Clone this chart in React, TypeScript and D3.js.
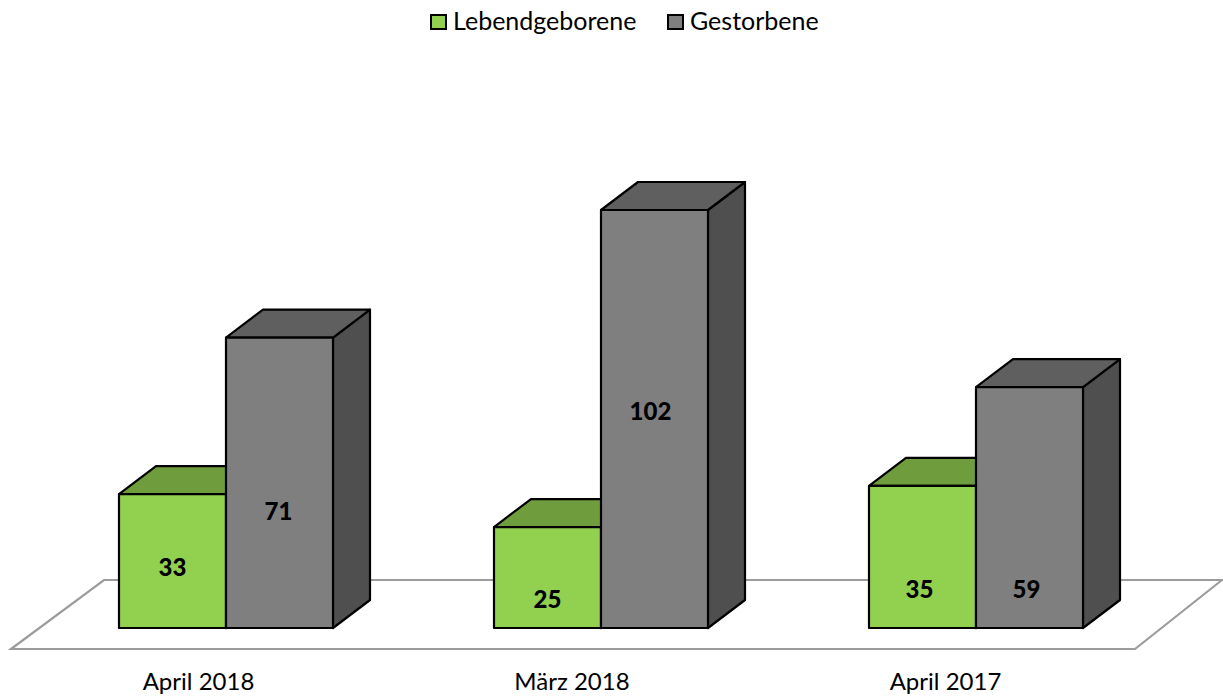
import React, { useEffect, useRef } from 'react'
import * as d3 from 'd3'

const categories = ['April 2018', 'März 2018', 'April 2017']
const seriesNames = ['Lebendgeborene', 'Gestorbene']
const lebendgeborene = [33, 25, 35]
const gestorbene = [71, 102, 59]
const seriesValues = [lebendgeborene, gestorbene]

// hand placed labels in the original, shift from the middle of the front face
const labelShiftX = [
  [0, -1],
  [0, -4],
  [-3, -3],
]
const labelShiftY = [
  [5, 28],
  [21, -9],
  [31, 81],
]

const palette = [
  { front: '#92d050', top: '#6f9c3c' },
  { front: '#7f7f7f', top: '#5f5f5f', side: '#4f4f4f' },
]

const App = () => {
  const svgRef = useRef<SVGSVGElement>(null)

  useEffect(() => {
    const width = 1223
    const height = 697
    const baseline = 628
    const depthX = 37
    const depthY = 28
    const font = 'Lato, "Open Sans", sans-serif'

    const x0 = d3
      .scaleBand()
      .domain(categories)
      .range([38.5, 1163.5])
      .paddingInner(161 / 375)
      .paddingOuter(161 / 750)

    const x1 = d3
      .scaleBand()
      .domain(seriesNames)
      .range([0, x0.bandwidth()])

    // zero sits a little below the front edge of the bars
    const y = d3.scaleLinear().domain([0, 102]).range([630, 210])

    const xLabel = d3.scalePoint().domain(categories).range([198.5, 945.5])

    const svg = d3.select(svgRef.current)
    svg.selectAll('*').remove()
    svg
      .attr('width', width)
      .attr('height', height)
      .attr('viewBox', [0, 0, width, height].join(' '))
      .style('position', 'absolute')
      .style('left', 0)
      .style('top', 0)
      .style('font-family', font)

    // Boden
    const floor = d3.path()
    floor.moveTo(11, 649)
    floor.lineTo(104, 580)
    floor.lineTo(1222, 580)
    floor.lineTo(1135, 649)
    floor.closePath()
    svg
      .append('path')
      .attr('d', floor.toString())
      .attr('fill', '#fff')
      .attr('stroke', '#9c9c9c')
      .attr('stroke-width', 2.2)

    const poly = (pts: number[][]) => d3.line()(pts as [number, number][]) + 'Z'

    // Saeulen
    categories.forEach((cat, i) => {
      seriesNames.forEach((name, s) => {
        const v = seriesValues[s][i]
        const left = x0(cat)! + x1(name)!
        const right = left + x1.bandwidth()
        const top = y(v)
        const g = svg.append('g').attr('stroke', '#000').attr('stroke-width', 2.2).attr('stroke-linejoin', 'round')
        const colors = palette[s]

        g.append('path')
          .attr('d', poly([[right, top], [right + depthX, top - depthY], [right + depthX, baseline - depthY], [right, baseline]]))
          .attr('fill', colors.side ?? colors.top)
        g.append('path')
          .attr('d', poly([[left, top], [left + depthX, top - depthY], [right + depthX, top - depthY], [right, top]]))
          .attr('fill', colors.top)
        g.append('rect')
          .attr('x', left)
          .attr('y', top)
          .attr('width', right - left)
          .attr('height', baseline - top)
          .attr('fill', colors.front)
      })
    })

    // Werte
    categories.forEach((cat, i) => {
      seriesNames.forEach((name, s) => {
        const v = seriesValues[s][i]
        svg
          .append('text')
          .attr('x', x0(cat)! + x1(name)! + x1.bandwidth() / 2 + labelShiftX[i][s])
          .attr('y', (y(v) + baseline) / 2 + labelShiftY[i][s])
          .attr('dy', '0.4em')
          .attr('text-anchor', 'middle')
          .attr('font-size', 24)
          .attr('font-weight', 900)
          .attr('fill', '#000')
          .text(v)
      })
    })

    // Kategorien
    categories.forEach((cat) => {
      svg
        .append('text')
        .attr('x', xLabel(cat)!)
        .attr('y', 690)
        .attr('text-anchor', 'middle')
        .attr('font-size', 24)
        .attr('fill', '#000')
        .text(cat)
    })

    // Legende
    const legendX = [431, 668]
    seriesNames.forEach((name, s) => {
      const g = svg.append('g').attr('transform', `translate(${legendX[s]},15)`)
      g.append('rect')
        .attr('width', 15)
        .attr('height', 14)
        .attr('fill', palette[s].front)
        .attr('stroke', '#000')
        .attr('stroke-width', 2)
      g.append('text')
        .attr('x', 22)
        .attr('y', 15)
        .attr('font-size', 25)
        .attr('fill', '#000')
        .text(name)
    })
  }, [])

  return <svg ref={svgRef}></svg>
}

export default App
